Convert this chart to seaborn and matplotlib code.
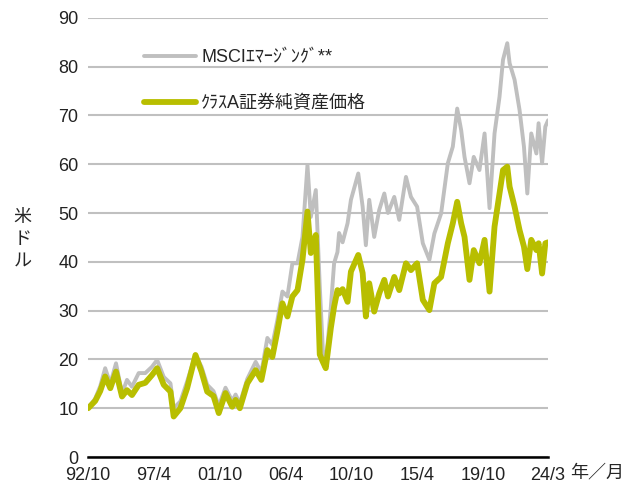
import seaborn as sns
import matplotlib.pyplot as plt
import pandas as pd

# time in decimal years (92/10 .. 24/3), values in USD
t = [1992.75, 1993.23, 1993.57, 1993.91, 1994.26, 1994.65, 1995.06, 1995.40, 1995.74, 1996.20,
     1996.65, 1997.11, 1997.46, 1997.91, 1998.37, 1998.59, 1999.05, 1999.51, 2000.08, 2000.49,
     2000.88, 2001.31, 2001.67, 2002.13, 2002.59, 2002.82, 2003.11, 2003.62, 2004.19, 2004.58,
     2004.99, 2005.33, 2005.67, 2006.02, 2006.36, 2006.70, 2007.05, 2007.39, 2007.73, 2007.96,
     2008.30, 2008.57, 2008.78, 2008.98, 2009.33, 2009.55, 2009.78, 2009.89, 2010.13, 2010.47,
     2010.70, 2011.20, 2011.50, 2011.72, 2011.95, 2012.29, 2012.63, 2012.98, 2013.23, 2013.66,
     2014.00, 2014.46, 2014.80, 2015.22, 2015.61, 2016.06, 2016.40, 2016.86, 2017.32, 2017.66,
     2017.96, 2018.23, 2018.46, 2018.80, 2019.09, 2019.48, 2019.83, 2020.17, 2020.51, 2020.85,
     2021.09, 2021.38, 2021.54, 2021.88, 2022.22, 2022.52, 2022.75, 2023.02, 2023.37, 2023.52,
     2023.76, 2023.98, 2024.17]

msci = [10.0, 12.0, 14.5, 18.2, 15.0, 19.2, 13.0, 15.8, 14.4, 17.2,
        17.2, 18.5, 19.9, 16.4, 15.1, 10.0, 11.4, 15.5, 21.0, 18.5,
        14.8, 13.5, 10.5, 14.2, 11.5, 12.8, 11.0, 16.0, 19.5, 17.3,
        24.4, 23.0, 28.0, 33.9, 32.9, 39.7, 39.7, 45.1, 59.8, 49.2,
        54.7, 35.0, 22.0, 19.0, 30.8, 39.7, 42.0, 45.9, 44.0, 47.9,
        52.7, 58.1, 51.3, 43.4, 52.7, 45.1, 50.6, 54.0, 50.0, 53.3,
        48.6, 57.4, 53.3, 51.3, 43.8, 40.4, 45.8, 49.9, 60.2, 63.6,
        71.4, 67.0, 61.5, 56.1, 61.5, 58.8, 66.3, 51.0, 66.3, 73.8,
        81.4, 84.8, 80.7, 77.3, 71.1, 63.6, 54.0, 66.3, 62.2, 68.4,
        60.2, 67.7, 69.0]

fund = [10.0, 11.5, 13.5, 16.5, 14.1, 17.5, 12.4, 13.7, 12.7, 14.8,
        15.2, 16.8, 18.2, 14.8, 13.4, 8.3, 10.0, 14.1, 20.9, 17.5,
        13.4, 12.5, 9.0, 13.1, 10.3, 11.7, 10.0, 15.1, 17.8, 15.8,
        21.9, 20.5, 25.7, 31.5, 28.8, 32.9, 34.2, 40.4, 50.3, 41.8,
        45.5, 21.0, 19.5, 18.2, 26.5, 30.8, 34.2, 33.5, 34.4, 31.8,
        38.0, 41.4, 37.7, 28.8, 35.6, 29.8, 33.5, 36.3, 32.9, 36.9,
        34.2, 39.7, 38.3, 39.7, 32.2, 30.1, 35.6, 36.9, 43.8, 47.9,
        52.3, 47.9, 45.1, 36.3, 42.4, 39.7, 44.5, 33.9, 47.2, 54.0,
        58.8, 59.5, 55.4, 51.3, 46.5, 43.1, 38.5, 44.5, 42.4, 43.8,
        37.6, 43.8, 44.0]

tick_pos = [1992.75, 1997.25, 2001.75, 2006.25, 2010.75, 2015.25, 2019.75, 2024.17]
tick_lab = ["92/10", "97/4", "01/10", "06/4", "10/10", "15/4", "19/10", "24/3"]

sns.set_theme(style="white")
plt.rcParams['font.family'] = ['Liberation Sans', 'Noto Sans CJK JP']

df = pd.DataFrame({"t": t, "msci": msci, "fund": fund})

fig = plt.figure(figsize=(6.3, 4.88), dpi=100)
ax = fig.add_axes([0.14, 0.0635, 0.73, 0.9])

sns.lineplot(data=df, x="t", y="msci", ax=ax, color="#BFBFBF", linewidth=2.8,
             label="MSCIｴﾏｰｼﾞﾝｸﾞ**")
sns.lineplot(data=df, x="t", y="fund", ax=ax, color="#B8BE00", linewidth=4.2,
             label="ｸﾗｽA証券純資産価格")

ax.set_xlim(1992.75, 2024.17)
ax.set_ylim(0, 90)
ax.set_yticks(range(0, 91, 10))
ax.yaxis.grid(True, color="#C0C0C0", linewidth=1.5)
ax.set_axisbelow(True)
ax.set_xticks(tick_pos)
ax.set_xticklabels(tick_lab)
ax.tick_params(axis="both", labelsize=13, length=0, pad=7, colors="#222222")
for s in ["left", "right", "top"]:
    ax.spines[s].set_visible(False)
ax.spines["bottom"].set_color("black")
ax.spines["bottom"].set_linewidth(1.8)
ax.set_xlabel("")
ax.set_ylabel("")

fig.text(0.036, 0.51, "米\nド\nル", fontsize=13, ha="center", va="center", linespacing=1.35)
fig.text(0.948, 0.03, "年／月", fontsize=13, ha="center", va="center")

ax.legend(loc="upper left", bbox_to_anchor=(0.085, 0.965), frameon=False, fontsize=13,
          handlelength=2.9, labelspacing=1.6, handletextpad=0.3)

fig.savefig("out.png", dpi=100)
